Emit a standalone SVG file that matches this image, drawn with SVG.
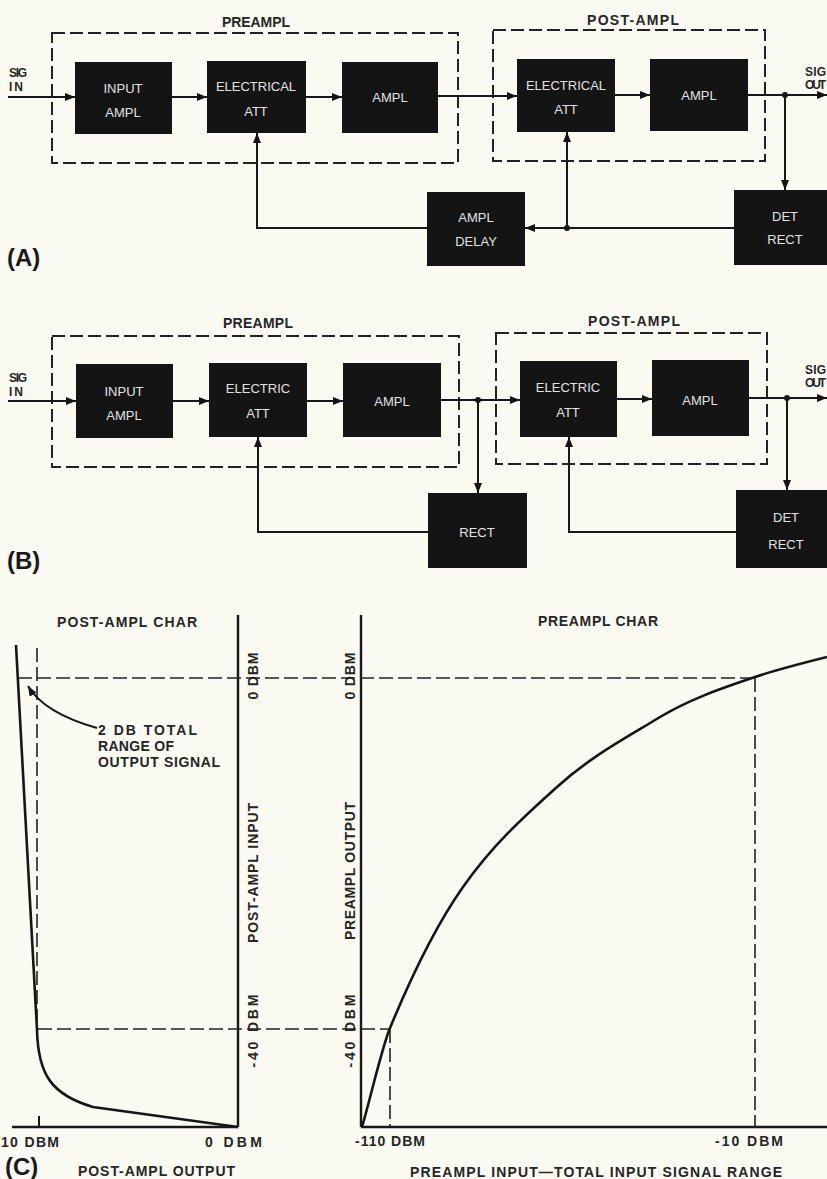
<svg xmlns="http://www.w3.org/2000/svg" width="827" height="1179" viewBox="0 0 827 1179">
<defs>
<marker id="ah" viewBox="0 0 10 8" refX="10" refY="4" markerWidth="10" markerHeight="8" markerUnits="userSpaceOnUse" orient="auto"><path d="M0,0 L10,4 L0,8 z" fill="#141414"/></marker>
<style>
.box{fill:#141414}
.bt{font-family:"Liberation Sans",Arial,sans-serif;font-size:13px;fill:#e2e2e2;text-anchor:middle}
.lb{font-family:"Liberation Sans",Arial,sans-serif;font-weight:bold;font-size:14px;fill:#262626;text-anchor:middle}
.sm{font-family:"Liberation Sans",Arial,sans-serif;font-weight:bold;font-size:12px;fill:#262626}
.ax14{font-family:"Liberation Sans",Arial,sans-serif;font-weight:bold;font-size:14px;fill:#262626}
.big{font-family:"Liberation Sans",Arial,sans-serif;font-weight:bold;font-size:24px;fill:#1a1a1a}
.ln{stroke:#181818;stroke-width:2;fill:none}
.ar{stroke:#181818;stroke-width:2;fill:none;marker-end:url(#ah)}
.dsh{stroke:#222;stroke-width:2;fill:none;stroke-dasharray:13 5}
.dl{stroke:#222;stroke-width:1.6;fill:none;stroke-dasharray:14 5}
.ax{stroke:#181818;stroke-width:2.4;fill:none}
.cv{stroke:#161616;stroke-width:2.6;fill:none}
.dot{fill:#181818}
</style>
</defs>
<rect x="0" y="0" width="827" height="1179" fill="#fafaf2"/>

<!-- ===== (A) ===== -->
<g id="A-groups">
<rect class="dsh" x="52" y="33" width="406" height="130"/>
<text class="lb" x="256" y="27" textLength="68">PREAMPL</text>
<rect class="dsh" x="493" y="30" width="272" height="131"/>
<text class="lb" x="633" y="25" textLength="92">POST-AMPL</text>
<text class="sm" x="9" y="77" font-size="13" textLength="18">SIG</text>
<text class="sm" x="9" y="91" font-size="13" textLength="14">IN</text>
<text class="sm" x="805" y="76" font-size="13" textLength="21">SIG</text>
<text class="sm" x="805" y="89" font-size="13" textLength="21">OUT</text>
<text class="big" x="7" y="266">(A)</text>
</g>
<g id="A-input-ampl"><rect class="box" x="75" y="62" width="97" height="72"/><text class="bt" x="123" y="93">INPUT</text><text class="bt" x="123" y="117">AMPL</text></g>
<g id="A-elec-att-1"><rect class="box" x="207" y="61" width="99" height="72"/><text class="bt" x="256" y="91">ELECTRICAL</text><text class="bt" x="256" y="116">ATT</text></g>
<g id="A-ampl-1"><rect class="box" x="342" y="62" width="96" height="71"/><text class="bt" x="390" y="102">AMPL</text></g>
<g id="A-elec-att-2"><rect class="box" x="517" y="59" width="98" height="73"/><text class="bt" x="566" y="90">ELECTRICAL</text><text class="bt" x="566" y="114">ATT</text></g>
<g id="A-ampl-2"><rect class="box" x="650" y="59" width="98" height="72"/><text class="bt" x="699" y="100">AMPL</text></g>
<g id="A-det-rect"><rect class="box" x="734" y="190" width="100" height="75"/><text class="bt" x="785" y="221">DET</text><text class="bt" x="785" y="244">RECT</text></g>
<g id="A-ampl-delay"><rect class="box" x="427" y="192" width="98" height="74"/><text class="bt" x="476" y="222">AMPL</text><text class="bt" x="476" y="246">DELAY</text></g>

<g id="A-connectors">
<line class="ar" x1="8" y1="97" x2="75" y2="97"/>
<line class="ar" x1="172" y1="97" x2="207" y2="97"/>
<line class="ar" x1="306" y1="97" x2="342" y2="97"/>
<line class="ar" x1="438" y1="96" x2="517" y2="96"/>
<line class="ar" x1="615" y1="95" x2="650" y2="95"/>
<line class="ar" x1="748" y1="95" x2="827" y2="95"/>
<circle class="dot" cx="785" cy="95" r="3"/>
<line class="ar" x1="785" y1="95" x2="785" y2="190"/>
<line class="ar" x1="734" y1="228" x2="525" y2="228"/>
<circle class="dot" cx="567" cy="228" r="3"/>
<line class="ar" x1="567" y1="228" x2="567" y2="132"/>
<polyline class="ar" points="427,228 257,228 257,133"/>
</g>

<!-- ===== (B) ===== -->
<g id="B-groups">
<rect class="dsh" x="52" y="336" width="407" height="131"/>
<text class="lb" x="258" y="328" textLength="70">PREAMPL</text>
<rect class="dsh" x="496" y="333" width="271" height="131"/>
<text class="lb" x="634" y="326" textLength="92">POST-AMPL</text>
<text class="sm" x="9" y="382" font-size="13" textLength="18">SIG</text>
<text class="sm" x="9" y="396" font-size="13" textLength="14">IN</text>
<text class="sm" x="805" y="374" font-size="13" textLength="21">SIG</text>
<text class="sm" x="805" y="387" font-size="13" textLength="21">OUT</text>
<text class="big" x="7" y="569">(B)</text>
</g>
<g id="B-input-ampl"><rect class="box" x="76" y="364" width="97" height="74"/><text class="bt" x="124" y="396">INPUT</text><text class="bt" x="124" y="420">AMPL</text></g>
<g id="B-elec-att-1"><rect class="box" x="209" y="363" width="98" height="74"/><text class="bt" x="258" y="393">ELECTRIC</text><text class="bt" x="258" y="418">ATT</text></g>
<g id="B-ampl-1"><rect class="box" x="343" y="363" width="98" height="74"/><text class="bt" x="392" y="406">AMPL</text></g>
<g id="B-rect"><rect class="box" x="428" y="493" width="99" height="75"/><text class="bt" x="477" y="537">RECT</text></g>
<g id="B-elec-att-2"><rect class="box" x="520" y="361" width="97" height="76"/><text class="bt" x="568" y="392">ELECTRIC</text><text class="bt" x="568" y="417">ATT</text></g>
<g id="B-ampl-2"><rect class="box" x="652" y="360" width="97" height="76"/><text class="bt" x="700" y="405">AMPL</text></g>
<g id="B-det-rect"><rect class="box" x="736" y="490" width="100" height="78"/><text class="bt" x="786" y="522">DET</text><text class="bt" x="786" y="549">RECT</text></g>

<g id="B-connectors">
<line class="ar" x1="8" y1="401" x2="76" y2="401"/>
<line class="ar" x1="173" y1="401" x2="209" y2="401"/>
<line class="ar" x1="307" y1="401" x2="343" y2="401"/>
<line class="ar" x1="441" y1="400" x2="520" y2="400"/>
<circle class="dot" cx="478" cy="400" r="3"/>
<line class="ar" x1="478" y1="400" x2="478" y2="493"/>
<line class="ar" x1="617" y1="399" x2="652" y2="399"/>
<line class="ar" x1="749" y1="398" x2="827" y2="398"/>
<circle class="dot" cx="787" cy="398" r="3"/>
<line class="ar" x1="787" y1="398" x2="787" y2="490"/>
<polyline class="ar" points="736,532 569,532 569,437"/>
<polyline class="ar" points="428,532 258,532 258,437"/>
</g>

<!-- ===== (C) ===== -->
<g id="C-post-ampl-char">
<text class="lb" x="127" y="627" textLength="140">POST-AMPL CHAR</text>
<line class="ax" x1="238" y1="615" x2="238" y2="1127"/>
<line class="ax" x1="12" y1="1127" x2="238" y2="1127"/>
<line class="ln" x1="39" y1="1116" x2="39" y2="1127" stroke-width="1.5"/>
<line class="dl" x1="37" y1="648" x2="37" y2="1030"/>
<path class="cv" d="M16,645 L37,1030 C38,1075 52,1095 93,1107 L238,1127"/>
<path class="ln" d="M97,728 Q44,713 28,686" stroke-width="1.8" marker-end="url(#ah)"/>
<text class="ax14" x="98" y="735" font-size="15" textLength="99">2 DB TOTAL</text>
<text class="ax14" x="98" y="751" font-size="15" textLength="76">RANGE OF</text>
<text class="ax14" x="98" y="767" font-size="15" textLength="122">OUTPUT SIGNAL</text>
<text class="ax14" x="258" y="676" transform="rotate(-90 258 676)" text-anchor="middle" textLength="47">0 DBM</text>
<text class="ax14" x="258" y="873" transform="rotate(-90 258 873)" text-anchor="middle" textLength="140">POST-AMPL INPUT</text>
<text class="ax14" x="258" y="1031" transform="rotate(-90 258 1031)" text-anchor="middle" textLength="73">-40 DBM</text>
<text class="ax14" x="1" y="1147" textLength="58">10 DBM</text>
<text class="ax14" x="205" y="1147" textLength="57">0 DBM</text>
<text class="big" x="5" y="1175" font-size="27">(C)</text>
<text class="ax14" x="78" y="1176" font-size="15" textLength="157">POST-AMPL OUTPUT</text>
</g>

<g id="C-preampl-char">
<text class="lb" x="598" y="626" textLength="120">PREAMPL CHAR</text>
<line class="ax" x1="361" y1="615" x2="361" y2="1127"/>
<line class="ax" x1="361" y1="1127" x2="827" y2="1127"/>
<line class="dl" x1="755" y1="678" x2="755" y2="1127"/>
<line class="dl" x1="390" y1="1029" x2="390" y2="1127"/>
<path class="cv" d="M362,1127 C370,1100 382,1047 390,1028 C414,970 439,921 463,887 C494,843 526,815 557,787 C591,756 626,738 660,717 C692,698 723,688 755,677 C779,669 803,663 827,657"/>
<text class="ax14" x="355" y="676" transform="rotate(-90 355 676)" text-anchor="middle" textLength="47">0 DBM</text>
<text class="ax14" x="355" y="871" transform="rotate(-90 355 871)" text-anchor="middle" textLength="138">PREAMPL OUTPUT</text>
<text class="ax14" x="355" y="1031" transform="rotate(-90 355 1031)" text-anchor="middle" textLength="73">-40 DBM</text>
<text class="ax14" x="355" y="1146" textLength="70">-110 DBM</text>
<text class="ax14" x="715" y="1146" textLength="68">-10 DBM</text>
<text class="ax14" x="410" y="1177" font-size="15" textLength="372">PREAMPL INPUT—TOTAL INPUT SIGNAL RANGE</text>
</g>

<g id="C-guides">
<line class="dl" x1="18" y1="678" x2="755" y2="678"/>
<line class="dl" x1="38" y1="1029" x2="390" y2="1029"/>
</g>
</svg>
